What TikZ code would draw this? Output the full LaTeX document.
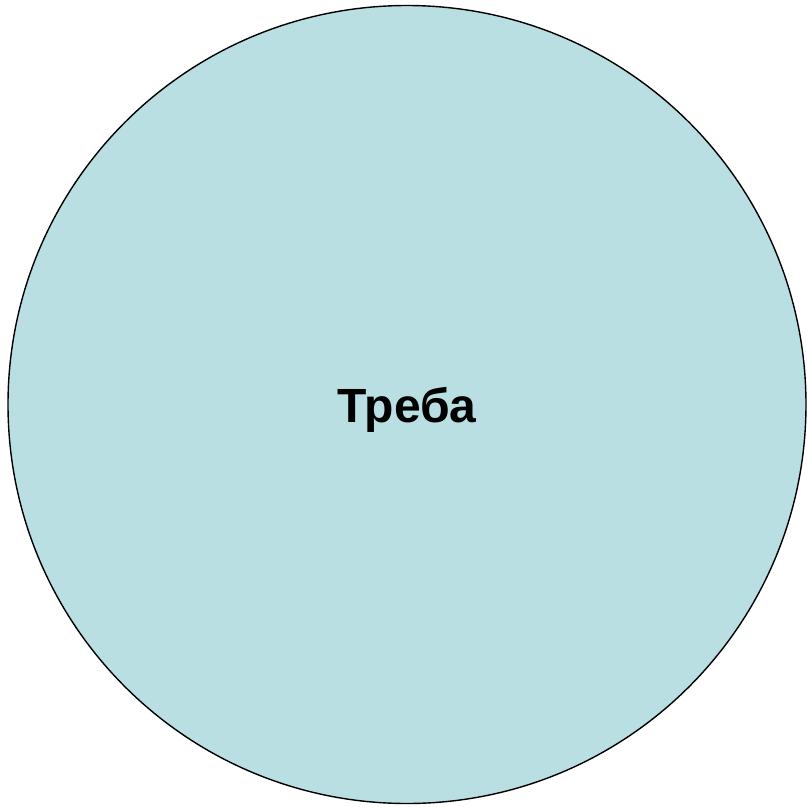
\documentclass[tikz,border=0pt]{standalone}
\usepackage{fontspec}
\setmainfont{Liberation Sans}
\definecolor{fillc}{RGB}{185,223,227}
\begin{document}
\begin{tikzpicture}[x=1pt,y=-1pt,
  circ/.style={circle,draw=black,line width=1.4pt,fill=fillc,minimum size=798pt,inner sep=0pt},
  lbl/.style={inner sep=0pt,font=\fontsize{48}{56}\selectfont\bfseries}]
\useasboundingbox (0,0) rectangle (807,807);
\node[circ] (c) at (407,404.5) {};
\node[lbl,anchor=base] (t) at (407,422) {Треба};
\end{tikzpicture}
\end{document}
